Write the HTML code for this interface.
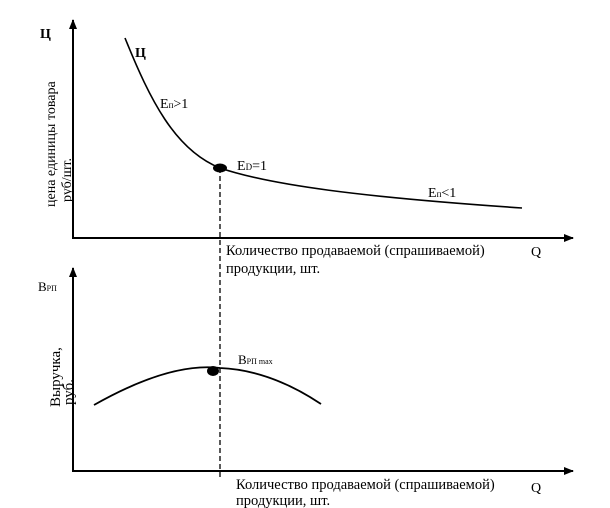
<!DOCTYPE html>
<html><head><meta charset="utf-8"><style>
html,body{margin:0;padding:0;background:#fff;}
svg{display:block;font-family:"Liberation Serif",serif;}
</style></head><body>
<svg width="610" height="508" viewBox="0 0 610 508">
<defs><marker id="a" markerWidth="10" markerHeight="8" refX="9" refY="4" orient="auto" markerUnits="userSpaceOnUse"><path d="M0,0 L10,4 L0,8z" fill="#000"/></marker></defs>
<!-- top chart -->
<line x1="73" y1="238" x2="73" y2="20" stroke="#000" stroke-width="2" marker-end="url(#a)"/>
<line x1="72" y1="238" x2="573" y2="238" stroke="#000" stroke-width="2" marker-end="url(#a)"/>
<path d="M125,38 C150,100 175,150 220,168 C270,185 360,197 522,208" fill="none" stroke="#000" stroke-width="1.6"/>
<ellipse cx="220" cy="168" rx="7" ry="4.5" fill="#000"/>
<line x1="220" y1="168" x2="220" y2="480" stroke="#000" stroke-width="1.3" stroke-dasharray="5,3"/>
<text x="40" y="38" font-size="14" font-weight="bold">Ц</text>
<text x="135" y="57" font-size="14" font-weight="bold">Ц</text>
<text x="160" y="108" font-size="14">E<tspan font-size="9">п</tspan>&gt;1</text>
<text x="237" y="170" font-size="14">E<tspan font-size="9">D</tspan>=1</text>
<text x="428" y="197" font-size="14">E<tspan font-size="9">п</tspan>&lt;1</text>
<text transform="translate(55,207) rotate(-90)" font-size="14">цена единицы товара</text>
<text transform="translate(71,202) rotate(-90)" font-size="14">руб/шт.</text>
<text x="226" y="255" font-size="14.5">Количество продаваемой (спрашиваемой)</text>
<text x="226" y="273" font-size="14.5">продукции, шт.</text>
<text x="531" y="256" font-size="14">Q</text>
<!-- bottom chart -->
<line x1="73" y1="471" x2="73" y2="268" stroke="#000" stroke-width="2" marker-end="url(#a)"/>
<line x1="72" y1="471" x2="573" y2="471" stroke="#000" stroke-width="2" marker-end="url(#a)"/>
<path d="M94,405 Q170,362 220,368 Q270,370 321,404" fill="none" stroke="#000" stroke-width="1.8"/>
<ellipse cx="213" cy="371" rx="6" ry="5" fill="#000"/>
<text x="38" y="291" font-size="13">B<tspan font-size="8">РП</tspan></text>
<text x="238" y="364" font-size="13">B<tspan font-size="8">РП max</tspan></text>
<text transform="translate(60,407) rotate(-90)" font-size="15">Выручка,</text>
<text transform="translate(73,405) rotate(-90)" font-size="15">руб.</text>
<text x="236" y="489" font-size="14.5">Количество продаваемой (спрашиваемой)</text>
<text x="236" y="505" font-size="14.5">продукции, шт.</text>
<text x="531" y="492" font-size="14">Q</text>
</svg>
</body></html>
